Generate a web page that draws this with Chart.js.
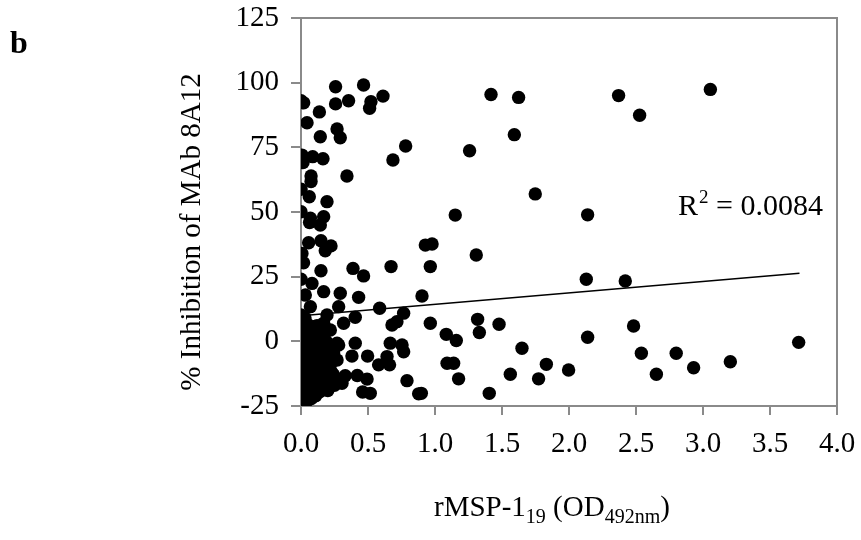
<!DOCTYPE html>
<html>
<head>
<meta charset="utf-8">
<script src="https://cdn.jsdelivr.net/npm/chart.js@4/dist/chart.umd.min.js"></script>
<style>
html,body{margin:0;padding:0;background:#fff;}
#c{display:block;}
</style>
</head>
<body>
<canvas id="c" width="861" height="540"></canvas>
<script>
// rMSP-1(19) OD values (x) and % inhibition (y)
const xValues = [
  0.000,0.020,0.045,0.137,0.258,0.258,0.355,0.467,0.522,0.512,0.612,0.269,0.293,0.144,0.781,0.686,
  0.007,0.015,0.087,0.164,0.075,0.075,0.343,0.000,0.062,0.194,0.000,0.070,0.169,0.064,0.144,0.057,
  0.149,0.224,0.181,0.007,0.019,0.149,0.388,0.467,0.672,0.000,0.082,0.169,0.293,0.430,0.032,0.281,
  0.587,0.766,0.903,0.194,0.070,0.000,0.405,0.318,0.716,0.679,0.169,0.094,0.219,
  0.928,0.978,0.965,1.308,0.965,1.318,1.331,1.478,1.084,1.159,1.649,1.090,1.139,1.831,1.562,1.997,
  1.176,1.773,1.405,0.898,1.418,1.624,1.592,1.258,1.748,1.151,
  2.370,3.055,2.527,2.139,2.129,2.420,2.482,2.139,3.714,2.540,2.800,3.204,2.930,2.652,
  0.405,0.281,0.666,0.754,0.766,0.642,0.380,0.497,0.269,0.579,0.661,0.791,0.878,0.460,0.517,0.493,
  0.420,0.330,0.243,0.169,0.306,0.243,0.269,0.032,
  0.00,0.02,0.05,0.08,0.11,0.14,0.17,0.01,0.04,0.07,0.10,0.13,0.16,0.19,0.00,0.03,
  0.06,0.09,0.12,0.15,0.18,0.02,0.05,0.08,0.11,0.14,0.17,0.20,0.00,0.03,0.06,0.09,
  0.12,0.15,0.18,0.01,0.04,0.07,0.10,0.13,0.16,0.02,0.05,0.08,0.11,0.03,0.06,0.00,
  0.00,0.09,0.12,0.03,0.21,0.22,0.19,0.23,
  0.00,0.00,0.00,0.01,0.04,0.07,0.10,0.13,0.16,0.19,0.22,0.25,0.24,0.20,0.17,0.14,
  0.11,0.08,0.05,0.02
];
const yValues = [
  93.0,92.2,84.5,88.7,98.4,91.8,93.0,99.1,92.6,90.1,94.8,82.1,78.7,79.1,75.5,70.1,
  72.0,69.1,71.4,70.6,63.9,61.8,63.9,58.8,55.9,54.0,50.1,47.6,48.2,45.9,45.0,38.1,
  38.9,36.9,35.0,34.0,30.4,27.3,28.2,25.3,28.9,24.0,22.4,19.2,18.6,17.0,17.9,13.4,
  12.8,10.9,17.5,10.2,13.4,10.2,9.3,7.0,7.6,6.3,7.0,5.7,4.4,
  37.2,37.6,28.9,33.4,7.0,8.5,3.4,6.6,2.7,0.3,-2.7,-8.5,-8.5,-8.9,-12.7,-11.1,
  -14.5,-14.5,-20.1,-20.1,95.4,94.3,79.9,73.7,57.0,48.8,
  95.0,97.4,87.4,48.9,24.0,23.3,5.9,1.6,-0.4,-4.6,-4.6,-7.9,-10.2,-12.7,
  -0.7,-1.4,-0.7,-1.4,-4.0,-5.9,-5.7,-5.7,-7.2,-9.1,-9.1,-15.2,-20.3,-19.6,-20.1,-14.6,
  -13.2,-13.3,-13.0,-16.9,-16.2,-4.6,-0.7,-24.0,
  5.0,2.5,6.5,3.0,1.0,4.0,2.0,-1.0,-2.5,-0.5,-3.0,-1.5,-2.8,-0.2,-4.5,-6.0,
  -4.0,-6.5,-5.0,-7.0,-5.5,-8.5,-10.0,-8.0,-9.5,-11.0,-9.0,-10.5,-12.0,-13.5,-12.5,-14.0,
  -12.0,-14.5,-13.0,-16.0,-17.5,-16.5,-18.0,-16.0,-18.5,-20.0,-21.5,-19.5,-21.0,-23.0,-22.5,-18.0,
  -8.0,-2.0,6.0,9.0,-7.5,-3.5,-15.5,-12.0,
  1.0,-15.0,-21.0,-10.5,-14.8,-11.5,-6.0,-8.5,-13.8,-17.8,-9.0,-17.0,-5.0,-19.0,-3.5,-19.5,
  -15.5,-22.0,-2.0,-6.5
];
// linear trend line end points
const trendX = [0.0, 3.72];
const trendY = [9.9, 26.3];

const xTickStep = 0.5, xMin = 0, xMax = 4;
const yTickStep = 25, yMin = -25, yMax = 125;

const points = xValues.map((x, i) => ({x: x, y: yValues[i]}));
const trend = trendX.map((x, i) => ({x: x, y: trendY[i]}));

const SERIF = '"Liberation Serif", "Times New Roman", serif';

function noEdgePadding(s) {
  s.paddingTop = 0; s.paddingBottom = 0; s.paddingLeft = 0; s.paddingRight = 0;
}

const annotations = {
  id: 'annotations',
  beforeDatasetsDraw(chart) {
    const {ctx, chartArea: a} = chart;
    ctx.save();
    ctx.strokeStyle = '#8a8a8a';
    ctx.lineWidth = 2;
    ctx.beginPath();
    ctx.moveTo(a.left, a.top);
    ctx.lineTo(a.right, a.top);
    ctx.lineTo(a.right, a.bottom);
    ctx.stroke();
    ctx.restore();
  },
  afterDraw(chart) {
    const ctx = chart.ctx;
    ctx.save();
    ctx.fillStyle = '#000';
    ctx.textBaseline = 'alphabetic';
    // panel letter
    ctx.font = 'bold 32px ' + SERIF;
    ctx.textAlign = 'left';
    ctx.fillText('b', 10, 53);
    // y title
    ctx.save();
    ctx.translate(200, 232);
    ctx.rotate(-Math.PI / 2);
    ctx.font = '29px ' + SERIF;
    ctx.textAlign = 'center';
    ctx.fillText('% Inhibition of MAb 8A12', 0, 0);
    ctx.restore();
    // x title with subscripts
    const parts = [
      ['rMSP-1', 29, 0], ['19', 20, 7], [' (OD', 29, 0], ['492nm', 20, 7], [')', 29, 0]
    ];
    let x = 434;
    const base = 516;
    ctx.textAlign = 'left';
    for (const [t, s, off] of parts) {
      ctx.font = s + 'px ' + SERIF;
      ctx.fillText(t, x, base + off);
      x += ctx.measureText(t).width;
    }
    // R squared
    let rx = 678;
    const rb = 215;
    ctx.font = '30px ' + SERIF;
    ctx.fillText('R', rx, rb);
    rx += ctx.measureText('R').width;
    ctx.font = '19px ' + SERIF;
    ctx.fillText('2', rx + 1, rb - 12);
    rx += ctx.measureText('2').width + 1;
    ctx.font = '30px ' + SERIF;
    ctx.fillText(' = 0.0084', rx, rb);
    ctx.restore();
  }
};

new Chart(document.getElementById('c'), {
  type: 'scatter',
  data: {
    datasets: [
      {
        data: points,
        backgroundColor: '#000',
        borderWidth: 0,
        pointRadius: 6.7,
        pointHoverRadius: 6.7
      },
      {
        type: 'line',
        data: trend,
        borderColor: '#000',
        borderWidth: 1.6,
        pointRadius: 0,
        fill: false,
        tension: 0
      }
    ]
  },
  options: {
    responsive: false,
    animation: false,
    events: [],
    layout: {padding: {left: 0, right: 24, top: 18, bottom: 0}},
    plugins: {legend: {display: false}, tooltip: {enabled: false}},
    scales: {
      x: {
        type: 'linear',
        min: xMin, max: xMax,
        afterFit(s) { s.height = 134; noEdgePadding(s); },
        ticks: {
          stepSize: xTickStep,
          callback: v => Number(v).toFixed(1),
          font: {family: SERIF, size: 29},
          color: '#000',
          padding: 12,
          maxRotation: 0,
          autoSkip: false
        },
        grid: {drawOnChartArea: false, tickLength: 9, color: '#8a8a8a', lineWidth: 2},
        border: {color: '#8a8a8a', width: 2}
      },
      y: {
        type: 'linear',
        min: yMin, max: yMax,
        afterFit(s) { s.width = 301; noEdgePadding(s); },
        ticks: {
          stepSize: yTickStep,
          font: {family: SERIF, size: 29},
          color: '#000',
          padding: 12,
          autoSkip: false
        },
        grid: {drawOnChartArea: false, tickLength: 10, color: '#8a8a8a', lineWidth: 2},
        border: {color: '#8a8a8a', width: 2}
      }
    }
  },
  plugins: [annotations]
});
</script>
</body>
</html>
